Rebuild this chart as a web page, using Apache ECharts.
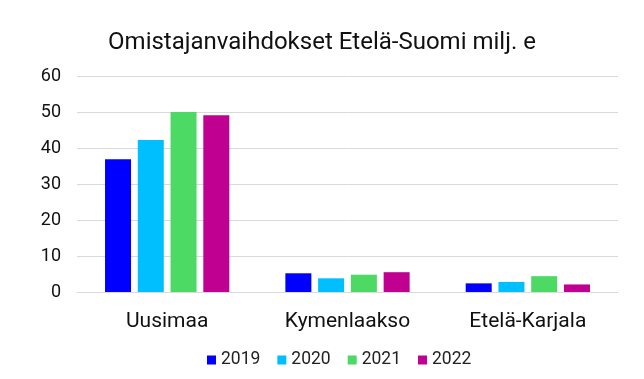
<!DOCTYPE html>
<html><head><meta charset="utf-8">
<script src="https://cdn.jsdelivr.net/npm/echarts@6/dist/echarts.min.js"></script>
<style>html,body{margin:0;padding:0;background:#fff}#c{width:644px;height:379px}</style>
</head><body><div id="c"></div>
<script>
const categories = ['Uusimaa', 'Kymenlaakso', 'Etelä-Karjala'];
const seriesNames = ['2019', '2020', '2021', '2022'];
const v2019 = [36.9, 5.2, 2.4];
const v2020 = [42.2, 3.8, 2.8];
const v2021 = [50.0, 4.8, 4.4];
const v2022 = [49.1, 5.5, 2.1];
const colors = ['#0000ff', '#00bfff', '#4cd964', '#bf0090'];
const allValues = [v2019, v2020, v2021, v2022];

const chart = echarts.init(document.getElementById('c'));
chart.setOption({
  animation: false,
  textStyle: { fontFamily: 'Roboto' },
  title: {
    text: 'Omistajanvaihdokset Etelä-Suomi milj. e',
    left: 'center', top: 26,
    textStyle: { fontFamily: 'Roboto', fontSize: 24, fontWeight: 'normal', color: '#111' }
  },
  legend: {
    top: 346, left: 202,
    itemWidth: 9, itemHeight: 9, itemGap: 17,
    icon: 'rect',
    textStyle: { fontFamily: 'Roboto', fontSize: 17.5, color: '#222' },
    data: seriesNames
  },
  grid: { left: 77, right: 26, top: 76, bottom: 87 },
  xAxis: {
    type: 'category', data: categories,
    axisLine: { lineStyle: { color: '#d9d9d9' } },
    axisTick: { show: false },
    axisLabel: { fontFamily: 'Roboto', fontSize: 21, color: '#111', margin: 19 }
  },
  yAxis: {
    type: 'value', min: 0, max: 60, interval: 10,
    axisLine: { show: false }, axisTick: { show: false },
    splitLine: { lineStyle: { color: '#d9d9d9', width: 1 } },
    axisLabel: { fontFamily: 'Roboto', fontSize: 18, color: '#111', margin: 16 }
  },
  series: seriesNames.map((n, i) => ({
    name: n, type: 'bar', data: allValues[i],
    barWidth: 26, barGap: '26%', barCategoryGap: '31%',
    itemStyle: { color: colors[i] }
  }))
});
</script></body></html>
